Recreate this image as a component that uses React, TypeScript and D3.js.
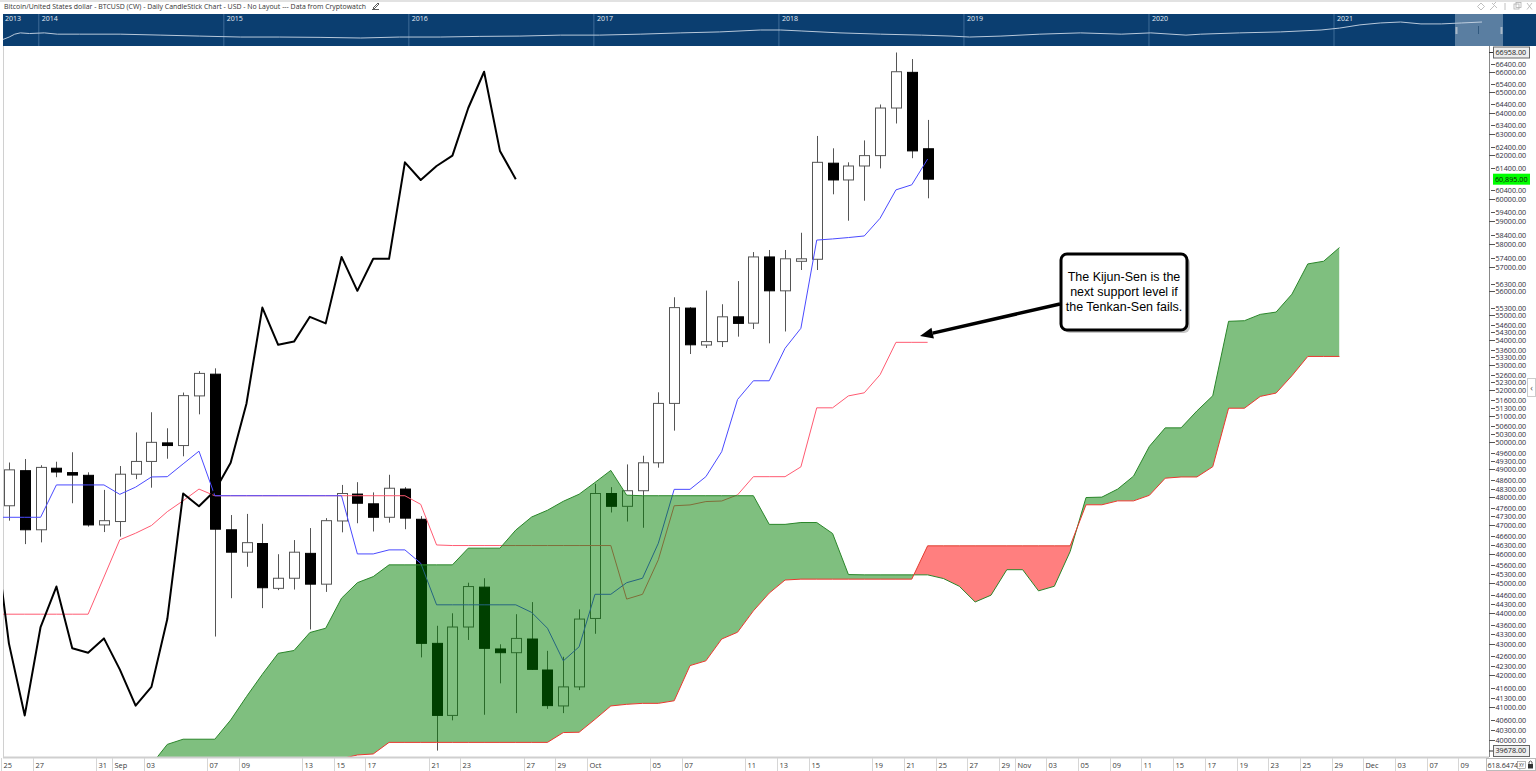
import React from 'react';
import * as d3 from 'd3';

// ---------- Daily candles, Aug 25 2021 (index 0) .. Oct 22 2021 (index 58) ----------
const opens = [47680, 48950, 46830, 49040, 48880, 48780, 47000, 47120, 48820, 49290, 49980, 49880, 51770, 52620, 46830, 46050, 46350, 44820, 45160, 46010, 44960, 47140, 48100, 47750, 47270, 48280, 47200, 43010, 40750, 43540, 44860, 42830, 42710, 43150, 42160, 41040, 41630, 43820, 48120, 47660, 48220, 49240, 51480, 55290, 53780, 53920, 54930, 54670, 57450, 56010, 57330, 57350, 61630, 60860, 61500, 61980, 64230, 65970, 62300];
const highs = [49250, 49380, 49150, 49280, 49630, 48890, 48250, 49120, 50370, 51140, 50530, 51900, 52740, 52850, 47350, 47390, 47040, 45980, 46470, 46890, 47240, 48430, 48530, 48160, 48800, 48350, 47310, 43580, 43990, 45010, 45160, 42980, 43960, 44360, 42770, 42580, 44120, 48470, 48350, 49180, 49500, 51910, 55740, 55330, 56020, 55450, 56420, 57660, 57750, 57750, 58500, 62900, 62320, 61670, 62690, 64400, 66958, 66630, 63660];
const lows = [47150, 46330, 46390, 48710, 47770, 46940, 46750, 46590, 48640, 48330, 49390, 49480, 51060, 43230, 44490, 45550, 44160, 44760, 44780, 43460, 44700, 46740, 47060, 46770, 47080, 46850, 42560, 39690, 40600, 43120, 40770, 41740, 40820, 42160, 40950, 40820, 41530, 43320, 47440, 47120, 46900, 49060, 50440, 53420, 53660, 53700, 54120, 54430, 53850, 54330, 56890, 56890, 60210, 59030, 59920, 61390, 63490, 61860, 60030];
const closes = [48980, 46830, 49070, 48900, 48800, 47000, 47150, 48820, 49290, 50000, 49880, 51780, 52650, 46850, 46050, 46380, 44840, 45160, 46050, 44960, 47150, 48120, 47770, 47270, 48310, 47240, 43010, 40750, 43540, 44880, 42850, 42710, 43170, 42180, 41050, 41630, 43800, 48120, 47660, 48220, 49240, 51480, 55310, 53790, 53920, 54930, 54660, 57450, 56010, 57370, 57370, 61670, 60860, 61500, 61980, 64230, 66000, 62200, 60895];

// ---------- Ichimoku lines (first value belongs to index -1, left edge) ----------
const LINE_START = -1;
const tenkan = [47270, 47270, 47270, 47270, 48430, 48430, 48430, 48430, 48090, 48350, 48720, 48730, 49200, 49670,
  48040, 48040, 48040, 48040, 48040, 48040, 48040, 48040, 48040,
  45990, 45990, 46130, 46130, 45670, 44270, 44270, 44270, 44270, 44270, 44270,
  44020, 43500, 42450, 42900, 44620, 44620, 45010, 45160, 46360, 48270, 48270, 48730, 49650, 51630, 52360, 52360, 53650, 54460, 58180, 58230, 58290, 58360, 59140, 60410, 60640, 61820];
const kijun = [43960, 43960, 43960, 43960, 43960, 43960, 43960, 45200, 46480, 46710, 46980, 47470, 47860, 48280,
  48040, 48040, 48040, 48040, 48040, 48040, 48040, 48040, 48040, 48040, 48040, 48040, 48040,
  47730, 46300, 46280, 46280, 46280, 46280, 46280, 46280, 46280, 46280, 46280, 46280, 46280,
  44460, 44620, 45790, 47680, 47710, 47830, 47850, 48070, 48730, 48730, 48730, 49090, 51310, 51310, 51770, 51890, 52600, 53890, 53890, 53890];
const chikou = [47240, 43010, 40750, 43540, 44880, 42850, 42710, 43170, 42180, 41050, 41630, 43800, 48120, 47660, 48220, 49240, 51480, 55310, 53790, 53920, 54930, 54660, 57450, 56010, 57370, 57370, 61670, 60860, 61500, 61980, 64230, 66000, 62200, 60895];

// ---------- Cloud (index 9 .. 84) ----------
const CLOUD_START = 9;
const spanA = [39280, 39875, 40030, 40030, 40030, 40610, 41330, 42025, 42690, 42780, 43360, 43500, 44490, 45010, 45215,
  45615, 45615, 45615, 45615, 45615, 46190, 46190, 46190, 46820, 47280, 47520, 47840, 48095, 48520, 48960, 48060,
  48040, 48040, 48040, 48040, 48040, 48040, 48040, 48040,
  47020, 47020, 47085, 47085, 46700, 45285, 45275, 45275, 45275, 45275, 45275, 45150, 44890, 44365, 44590, 45450, 45450, 44735, 44890, 46075,
  47975, 47990, 48280, 48750, 49850, 50545, 50545, 51190, 51775, 54745, 54770, 55030, 55125, 55870, 57150, 57265, 57855];
const spanB = [39100, 39100, 39100, 39100, 39100, 39100, 39100, 39100, 39100, 39100, 39100, 39100, 39450, 39560, 39590,
  39935, 39935, 39935, 39935, 39935, 39935, 39935, 39935, 39935, 39935, 39935,
  40230, 40240, 40630, 41040, 41090, 41120, 41120, 41200, 42300, 42450, 43150, 43370, 44070, 44660, 45100,
  45130, 45130, 45130, 45130, 45130, 45130, 45130, 45130,
  46270, 46270, 46270, 46270, 46270, 46270, 46270, 46270, 46270, 46270,
  47715, 47715, 47855, 47855, 48055, 48675, 48720, 48720, 49095, 51295, 51295, 51750, 51880, 52560, 53324, 53324, 53324];

// ---------- Axes ----------
const yTicks = [66400, 66000, 65400, 65000, 64400, 64000, 63400, 63000, 62400, 62000, 61400, 60400, 60000, 59400, 59000, 58400, 58000, 57400, 57000, 56300, 56000, 55300, 55000, 54600, 54300, 54000, 53600, 53300, 53000, 52600, 52300, 52000, 51600, 51300, 51000, 50600, 50300, 50000, 49600, 49300, 49000, 48600, 48300, 48000, 47600, 47300, 47000, 46600, 46300, 46000, 45600, 45300, 45000, 44600, 44300, 44000, 43600, 43300, 43000, 42600, 42300, 42000, 41600, 41300, 41000, 40600, 40300, 40000];
const HIGH_VALUE = 66958;
const LOW_VALUE = 39678;
const LAST_VALUE = 60895;
const xTickIndex = [0, 2, 6, 7, 9, 13, 15, 19, 21, 23, 27, 29, 33, 35, 37, 41, 43, 47, 49, 51, 55, 57, 59, 61, 63, 64, 66, 68, 70, 72, 74, 76, 78, 80, 82, 84, 86, 88, 90, 92];
const xTickText = ['25', '27', '31', 'Sep', '03', '07', '09', '13', '15', '17', '21', '23', '27', '29', 'Oct', '05', '07', '11', '13', '15', '19', '21', '25', '27', '29', 'Nov', '03', '05', '09', '11', '15', '17', '19', '23', '25', '29', 'Dec', '03', '07', '09'];

// ---------- Overview navigator ----------
const overviewYears = [2013.80, 2013.84, 2013.87, 2013.90, 2013.95, 2014.03, 2014.1, 2014.22, 2014.44, 2014.66, 2014.87, 2015.09, 2015.3, 2015.52, 2015.74, 2015.95, 2016.17, 2016.38, 2016.6, 2016.82, 2017.03, 2017.25, 2017.47, 2017.68, 2017.9, 2018.01, 2018.12, 2018.33, 2018.55, 2018.77, 2018.93, 2019.03, 2019.2, 2019.41, 2019.63, 2019.85, 2020.01, 2020.2, 2020.28, 2020.49, 2020.71, 2020.93, 2021.03, 2021.14, 2021.25, 2021.36, 2021.47, 2021.58, 2021.69, 2021.8];
const overviewLevels = [19, 28, 37, 41, 39, 41, 37, 37, 37, 34, 31, 28, 28, 27, 25, 28, 28, 30, 31, 34, 34, 37, 41, 44, 50, 50, 47, 41, 37, 34, 31, 28, 31, 37, 41, 37, 41, 34, 37, 41, 44, 50, 56, 66, 72, 75, 69, 69, 72, 75];
const yearLabels = [2013, 2014, 2015, 2016, 2017, 2018, 2019, 2020, 2021];

const TITLE = 'Bitcoin/United States dollar - BTCUSD (CW) - Daily CandleStick Chart - USD - No Layout --- Data from Cryptowatch';
const NOTE = ['The Kijun-Sen is the', 'next support level if', 'the Tenkan-Sen fails.'];

export default function App() {
  const W = 1536, H = 771;
  const plotL = 3, plotR = 1489, plotT = 46, plotB = 757;
  const step = 15.84;
  const x = d3.scaleLinear().domain([0, 92]).range([8.9, 8.9 + step * 92]);
  const y = d3.scaleLog().domain([LOW_VALUE, HIGH_VALUE]).range([751, 52.5]);
  const fmt = d3.format('.2f');

  const lineOf = (vals: number[], start: number) =>
    d3.line<number>().x((_, k) => x(start + k)).y(v => y(v))(vals) || '';

  const cloudIdx = d3.range(CLOUD_START, CLOUD_START + spanA.length);
  const cloudArea = d3.area<number>().x(i => x(i)).y0(i => y(spanB[i - CLOUD_START])).y1(i => y(spanA[i - CLOUD_START]))(cloudIdx) || '';
  const aboveB = d3.area<number>().x(i => x(i)).y0(i => y(spanB[i - CLOUD_START])).y1(0)(cloudIdx) || '';
  const belowB = d3.area<number>().x(i => x(i)).y0(i => y(spanB[i - CLOUD_START])).y1(H)(cloudIdx) || '';

  const ovX = d3.scaleLinear().domain([2014, 2021]).range([38.8, 1334]);
  const ovY = d3.scaleLinear().domain([0, 100]).range([46, 14]);
  const ovLine = d3.line<number>().x((_, k) => ovX(overviewYears[k])).y(v => ovY(v))(overviewLevels) || '';

  // annotation arrow
  const aS = [1060, 304], aT = [920, 336];
  const dx = aT[0] - aS[0], dy = aT[1] - aS[1];
  const len = Math.hypot(dx, dy);
  const ux = dx / len, uy = dy / len;
  const hb = [aT[0] - ux * 13, aT[1] - uy * 13];
  const head = `${aT[0]},${aT[1]} ${hb[0] + uy * 5.5},${hb[1] - ux * 5.5} ${hb[0] - uy * 5.5},${hb[1] + ux * 5.5}`;

  const axisFont = "'Open Sans', 'DejaVu Sans', sans-serif";

  return (
    <svg width={W} height={H} style={{ position: 'absolute', left: 0, top: 0, background: '#fff' }}>
      <defs>
        <clipPath id="plotClip"><rect x={plotL} y={plotT} width={plotR - plotL} height={plotB - plotT} /></clipPath>
        <clipPath id="aboveB"><path d={aboveB} /></clipPath>
        <clipPath id="belowB"><path d={belowB} /></clipPath>
        <clipPath id="ovClip"><rect x={3} y={14} width={1533} height={32} /></clipPath>
      </defs>

      {/* header */}
      <rect x={0} y={0} width={W} height={2} fill="#e2e2e2" />
      <text x={4} y={9} fontFamily={axisFont} fontSize={6.8} fill="#333" textLength={362} lengthAdjust="spacingAndGlyphs">{TITLE}</text>
      <path d="M372,9.5 L379,9.5 M373,8 L378,3 L379,4 L374,9 Z" stroke="#333" strokeWidth={0.8} fill="none" />
      <g stroke="#b0b0b0" strokeWidth={0.8} fill="none">
        <path d="M1481,3 L1484.5,6.5 L1481,10 L1477.5,6.5 Z" />
        <path d="M1490,10 L1494,6 M1492,3 L1497,8 M1494,4 L1496,2" />
        <path d="M1505,3 L1505,10" />
        <rect x={1514} y={4} width={5} height={5} />
        <rect x={1516} y={2.5} width={5} height={5} />
        <path d="M1527,3 L1532,9.5 M1532,3 L1527,9.5" />
      </g>

      {/* overview navigator */}
      <rect x={3} y={14} width={1533} height={32} fill="#0b3e70" />
      <g clipPath="url(#ovClip)">
        {yearLabels.map(yr => {
          const lx = ovX(yr);
          return (
            <g key={yr}>
              {lx > 3 && <line x1={lx} x2={lx} y1={14} y2={46} stroke="#3f6c98" strokeWidth={1} />}
              <text x={Math.max(lx + 3, 5)} y={21} fontFamily={axisFont} fontSize={7} fill="#e6edf5">{yr}</text>
            </g>
          );
        })}
        <path d={ovLine} fill="none" stroke="#b8c8da" strokeWidth={1} />
        <rect x={1455} y={14} width={48} height={32} fill="#c9d6e4" opacity={0.42} />
        <line x1={1478.5} x2={1478.5} y1={26} y2={34} stroke="#31597f" />
        <rect x={1455.5} y={27} width={2} height={7} fill="#aab9c9" />
        <rect x={1500.5} y={27} width={2} height={7} fill="#aab9c9" />
      </g>

      {/* plot frame */}
      <line x1={plotL + 0.5} x2={plotL + 0.5} y1={plotT} y2={plotB} stroke="#d0d0d0" />

      <g clipPath="url(#plotClip)">
        {/* candles */}
        {opens.map((o, i) => {
          const c = closes[i];
          const up = c >= o;
          const cx = Math.round(x(i)) + 0.5;
          const top = y(Math.max(o, c));
          const bot = y(Math.min(o, c));
          const h = Math.max(bot - top, 2.5);
          return (
            <g key={i}>
              <line x1={cx} x2={cx} y1={y(highs[i])} y2={y(lows[i])} stroke="#555" strokeWidth={1} />
              <rect x={cx - 5} y={top} width={10} height={h} fill={up ? '#fff' : '#000'} stroke={up ? '#555' : '#000'} strokeWidth={1} />
            </g>
          );
        })}

        {/* tenkan / kijun / chikou */}
        <path d={lineOf(kijun, LINE_START)} fill="none" stroke="#ff5b72" strokeWidth={1} />
        <path d={lineOf(tenkan, LINE_START)} fill="none" stroke="#4a4aff" strokeWidth={1} />
        <path d={lineOf(chikou, LINE_START)} fill="none" stroke="#000" strokeWidth={2} strokeLinejoin="round" />

        {/* cloud */}
        <path d={cloudArea} fill="rgb(0,128,0)" fillOpacity={0.5} clipPath="url(#aboveB)" />
        <path d={cloudArea} fill="rgb(255,0,0)" fillOpacity={0.5} clipPath="url(#belowB)" />
        <path d={lineOf(spanA, CLOUD_START)} fill="none" stroke="#2a862a" strokeWidth={1} />
        <path d={lineOf(spanB, CLOUD_START)} fill="none" stroke="#e8392f" strokeWidth={1} />
      </g>

      {/* annotation */}
      <rect x={1064} y={257} width={126} height={76} rx={6} fill="#9a9a9a" opacity={0.55} />
      <rect x={1061} y={254} width={126} height={76} rx={6} fill="#fff" stroke="#000" strokeWidth={3} />
      {NOTE.map((t, k) => (
        <text key={k} x={1124} y={281 + k * 15} textAnchor="middle" fontFamily="'Liberation Sans', Arial, sans-serif" fontSize={12.5} fill="#000">{t}</text>
      ))}
      <line x1={aS[0]} y1={aS[1]} x2={hb[0]} y2={hb[1]} stroke="#000" strokeWidth={3.5} />
      <polygon points={head} fill="#000" />

      {/* right axis */}
      <line x1={plotR + 0.5} x2={plotR + 0.5} y1={plotT} y2={plotB} stroke="#888" />
      {yTicks.map(v => {
        const major = v % 1000 === 0;
        const ty = Math.round(y(v)) + 0.5;
        return (
          <g key={v}>
            <line x1={major ? plotR : plotR + 2} x2={plotR + 6} y1={ty} y2={ty} stroke="#555" />
            <text x={1495.5} y={ty} dy="0.33em" fontFamily={axisFont} fontSize={7.2} fill="#2d2d3a">{fmt(v)}</text>
          </g>
        );
      })}
      {[HIGH_VALUE, LOW_VALUE].map(v => (
        <g key={v}>
          <line x1={plotR} x2={plotR + 6} y1={y(v)} y2={y(v)} stroke="#333" />
          <rect x={1493.5} y={y(v) - 5.5} width={36} height={11} fill="#eee" stroke="#666" />
          <text x={1495.5} y={y(v)} dy="0.33em" fontFamily={axisFont} fontSize={7.2} fill="#222">{fmt(v)}</text>
        </g>
      ))}
      <rect x={1493} y={y(LAST_VALUE) - 5.5} width={37} height={11} fill="#00ff00" />
      <text x={1495} y={y(LAST_VALUE)} dy="0.33em" fontFamily={axisFont} fontSize={7.2} fill="#111">{d3.format(',.2f')(LAST_VALUE)}</text>

      {/* right collapse strip */}
      <rect x={1527.5} y={378.5} width={8} height={18} fill="#fff" stroke="#ccc" />
      <text x={1531.5} y={390.5} textAnchor="middle" fontFamily={axisFont} fontSize={9} fill="#555">‹</text>

      {/* bottom axis */}
      <line x1={plotL} x2={plotR} y1={plotB + 0.5} y2={plotB + 0.5} stroke="#cfcfcf" strokeWidth={2} />
      {xTickIndex.map((i, k) => {
        const sx = Math.round(x(i) - step / 2) + 0.5;
        return (
          <g key={k}>
            <line x1={sx} x2={sx} y1={plotB + 1} y2={H} stroke="#d6d6d6" />
            <text x={sx + 2} y={768} fontFamily={axisFont} fontSize={7.4} fill="#3a3a3a">{xTickText[k]}</text>
          </g>
        );
      })}
      <rect x={1486.5} y={758.5} width={49} height={12} fill="#fff" stroke="#bbb" />
      <text x={1487.5} y={768} fontFamily={axisFont} fontSize={7.2} fill="#333">618.6474(</text>
      <rect x={1517.5} y={761.5} width={8} height={7} fill="#fff" stroke="#888" strokeWidth={0.6} />
      <text x={1521.5} y={767} textAnchor="middle" fontFamily={axisFont} fontSize={4.5} fill="#333">XY</text>
      <rect x={1528} y={764} width={5} height={4.5} fill="#333" />
      <path d="M1529,764 L1529,762 Q1530.5,760 1532,762 L1532,764" stroke="#333" strokeWidth={0.8} fill="none" />
    </svg>
  );
}
